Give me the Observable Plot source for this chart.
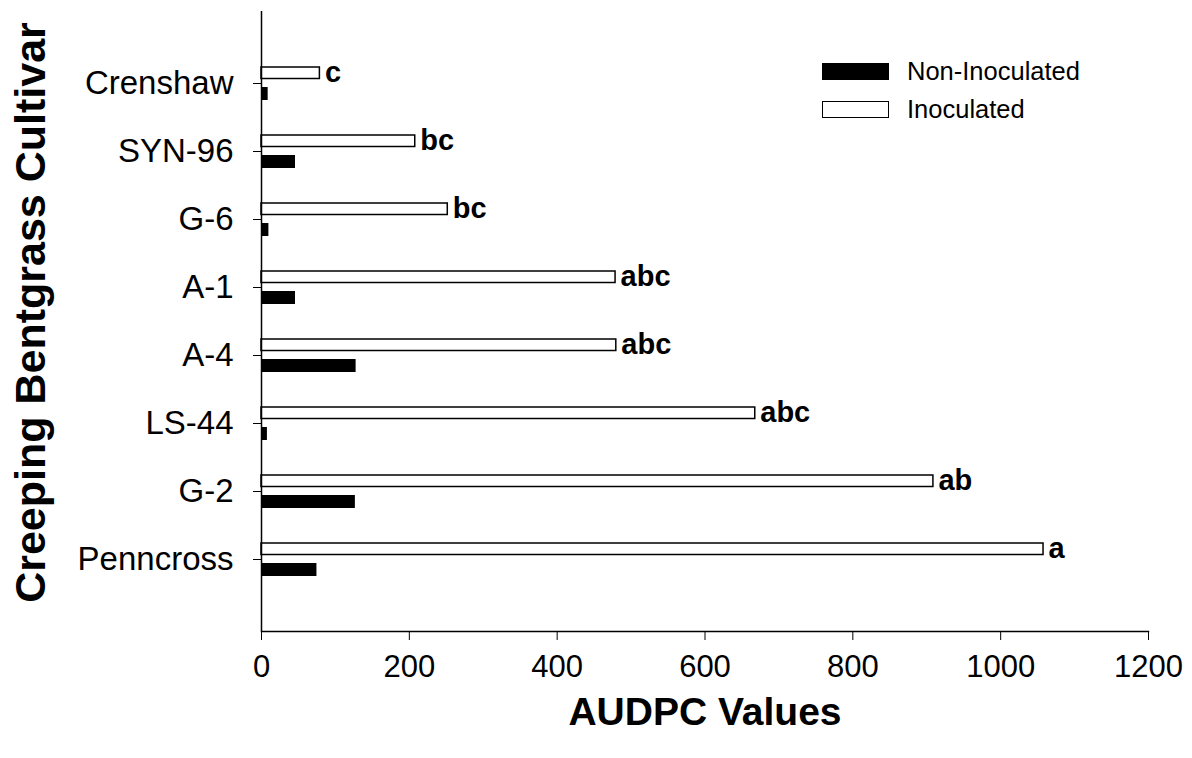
<!DOCTYPE html>
<html>
<head>
<meta charset="utf-8">
<script src="https://cdn.jsdelivr.net/npm/d3@7"></script>
<script src="https://cdn.jsdelivr.net/npm/@observablehq/plot@0.6"></script>
<style>
  html, body { margin: 0; padding: 0; background: white; }
  #wrap { position: relative; width: 1192px; height: 758px; font-family: "Liberation Sans", Arial, sans-serif; }
  .lg-item { position: absolute; display: flex; align-items: center; font-size: 25.5px; color: black; }
  .lg-swatch { box-sizing: border-box; width: 67px; height: 17px; margin-right: 18px; border: 1.5px solid black; }
</style>
</head>
<body>
<div id="wrap"></div>
<script>
const cultivars = ["Crenshaw", "SYN-96", "G-6", "A-1", "A-4", "LS-44", "G-2", "Penncross"];
const inoculated = [79, 208, 252, 479, 480, 668, 909, 1058];
const nonInoculated = [9, 46, 10, 46, 128, 8, 127, 75];
const letters = ["c", "bc", "bc", "abc", "abc", "abc", "ab", "a"];
const xTicks = [0, 200, 400, 600, 800, 1000, 1200];
const seriesNames = ["Non-Inoculated", "Inoculated"];
const seriesFills = ["black", "white"];

const rows = cultivars.map((c, i) => ({
  cultivar: c, inoc: inoculated[i], non: nonInoculated[i], letter: letters[i]
}));

const chart = Plot.plot({
  width: 1192,
  height: 758,
  marginLeft: 261,
  marginRight: 44,
  marginTop: 11,
  marginBottom: 127,
  style: { fontFamily: "'Liberation Sans', Arial, sans-serif", fontSize: "26px", color: "black", background: "white" },
  x: { domain: [0, 1200], ticks: xTicks, tickFormat: d => String(d), label: null },
  y: { domain: cultivars, paddingInner: 0, paddingOuter: 0.5, label: null },
  marks: [
    Plot.axisX({ ticks: xTicks, tickFormat: d => String(d), tickSize: 9, tickPadding: 14, fontSize: 31, label: null }),
    Plot.axisY({ tickSize: 8, tickPadding: 20, fontSize: 33, label: null }),
    Plot.barX(rows, { x: "non", y: "cultivar", fill: "black", insetTop: 38, insetBottom: 17 }),
    Plot.barX(rows, { x: "inoc", y: "cultivar", fill: "white", stroke: "black", strokeWidth: 1.5, insetTop: 18, insetBottom: 38.5 }),
    Plot.text(rows, { x: "inoc", y: "cultivar", text: "letter", dx: 5, dy: -10.5, textAnchor: "start", fontWeight: "bold", fontSize: 29 }),
    Plot.ruleX([0], { strokeWidth: 1.5 }),
    Plot.frame({ anchor: "bottom", strokeWidth: 1.5 }),
    Plot.text(["AUDPC Values"], { frameAnchor: "bottom", dy: 93, fontWeight: "bold", fontSize: 39 }),
    Plot.text(["Creeping Bentgrass Cultivar"], { frameAnchor: "left", textAnchor: "middle", dx: -230, dy: -9, rotate: -90, fontWeight: "bold", fontSize: 43 })
  ]
});

const wrap = document.getElementById("wrap");
wrap.appendChild(chart);

const legendTops = [62, 100];
seriesNames.forEach((name, i) => {
  const item = document.createElement("div");
  item.className = "lg-item";
  item.style.left = "822px";
  item.style.top = (legendTops[i] - 6) + "px";
  item.style.height = "30px";
  const sw = document.createElement("div");
  sw.className = "lg-swatch";
  sw.style.background = seriesFills[i];
  const tx = document.createElement("span");
  tx.textContent = name;
  item.appendChild(sw);
  item.appendChild(tx);
  wrap.appendChild(item);
});
</script>
</body>
</html>
